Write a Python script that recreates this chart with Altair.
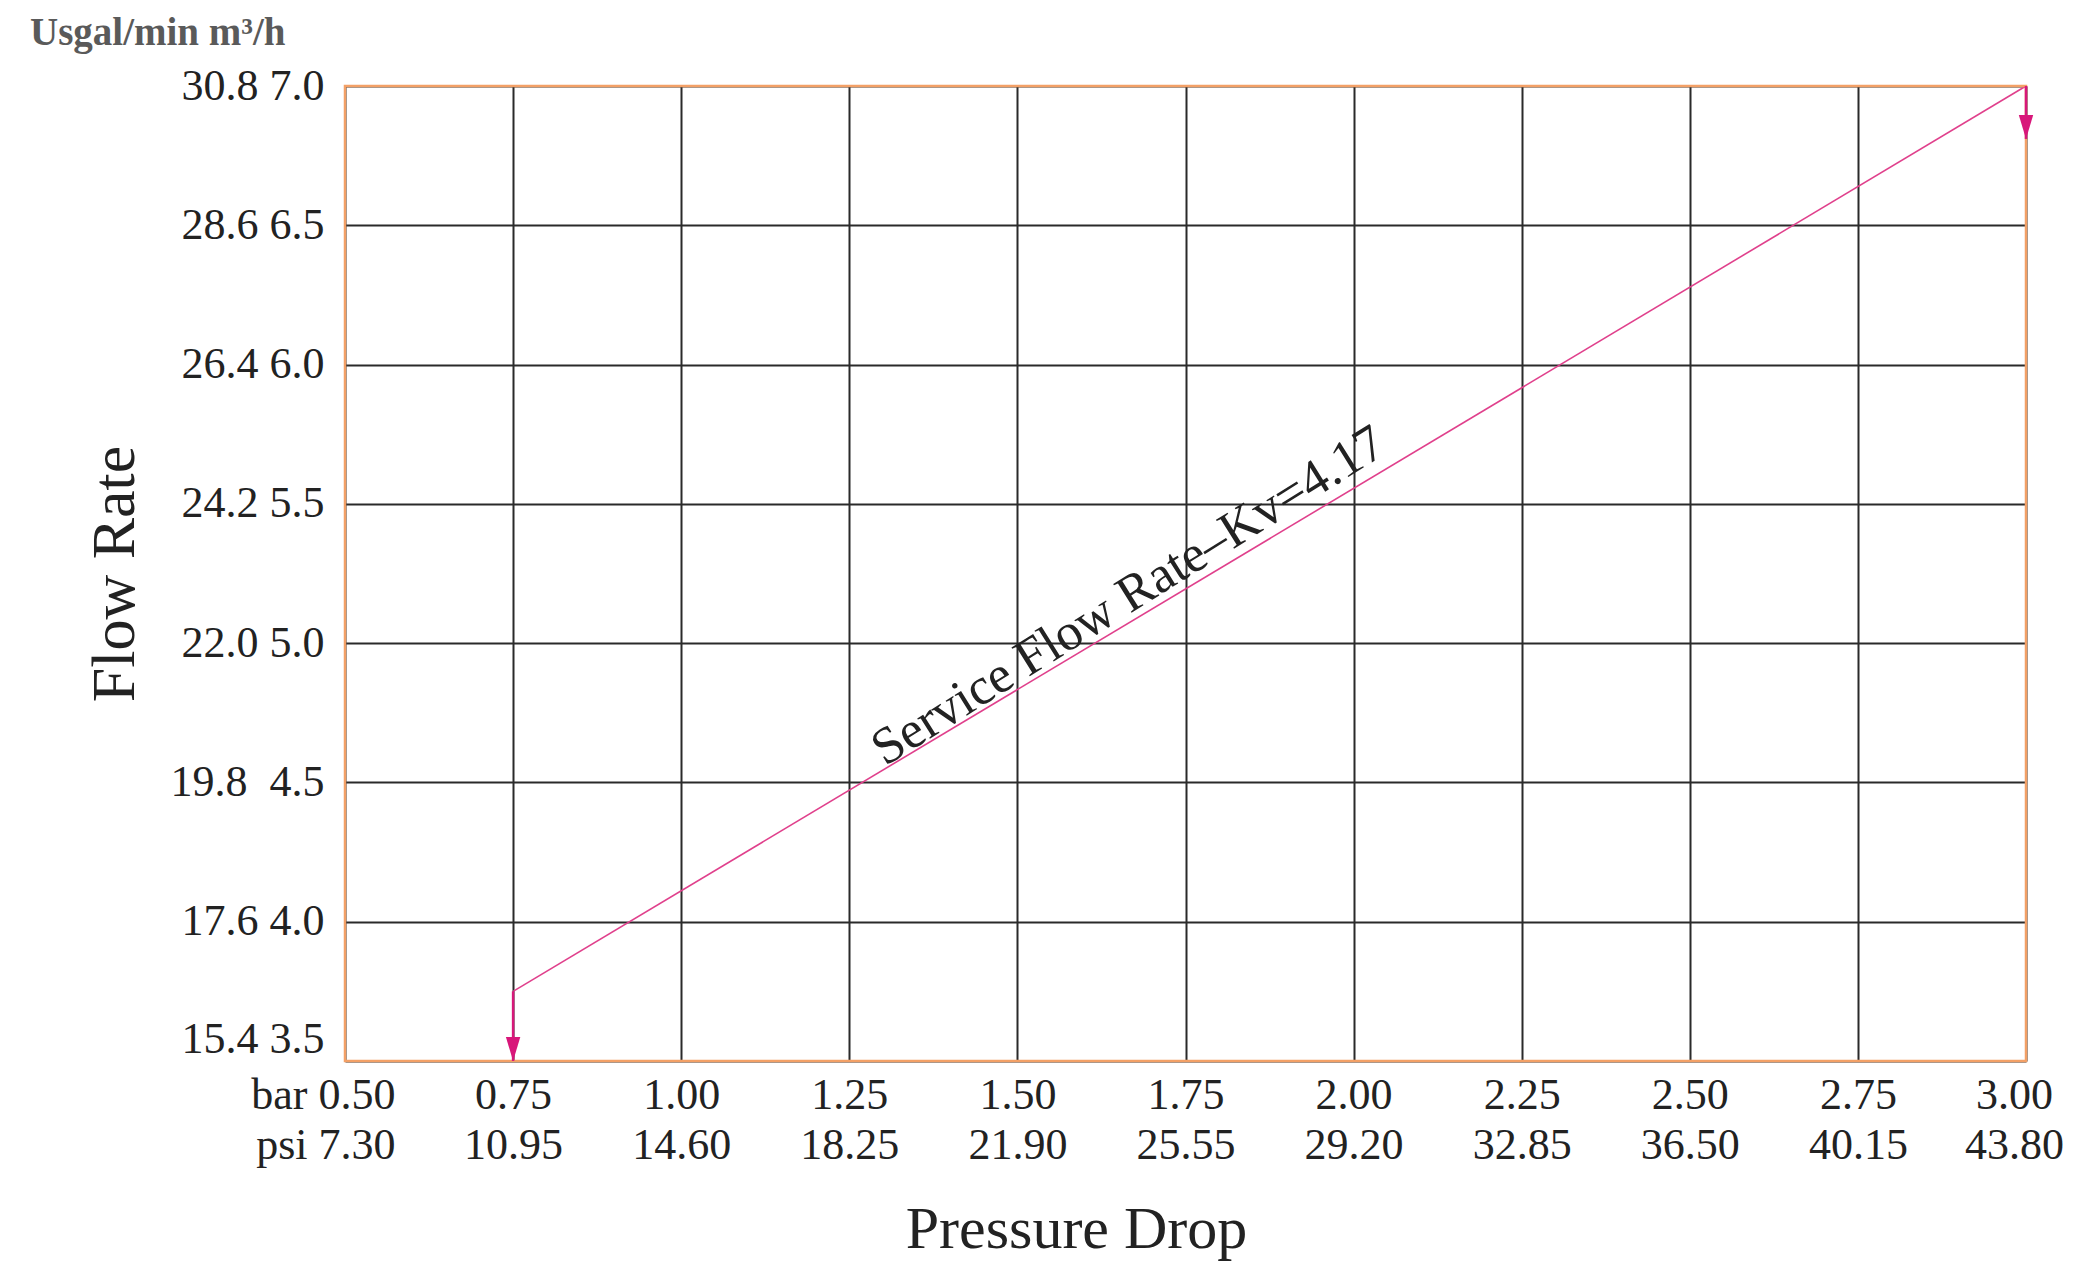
import json
import altair as alt
import pandas as pd

# ---- data ----
bar_ticks = [0.50, 0.75, 1.00, 1.25, 1.50, 1.75, 2.00, 2.25, 2.50, 2.75, 3.00]
bar_labels = ["0.50", "0.75", "1.00", "1.25", "1.50", "1.75", "2.00", "2.25", "2.50", "2.75", "3.00"]
psi_labels = ["7.30", "10.95", "14.60", "18.25", "21.90", "25.55", "29.20", "32.85", "36.50", "40.15", "43.80"]
flow_ticks = [3.5, 4.0, 4.5, 5.0, 5.5, 6.0, 6.5, 7.0]
flow_labels = ["15.4 3.5", "17.6 4.0", "19.8\u00a0\u00a04.5", "22.0 5.0",
               "24.2 5.5", "26.4 6.0", "28.6 6.5", "30.8 7.0"]

# service flow line (bar, m3/h)
line_bar = [0.75, 3.00]
line_flow = [3.75, 7.00]
# arrows (shaft from start to tip)
arrow_bar = [0.75, 3.00]
arrow_start = [3.75, 7.00]
arrow_tip = [3.50, 6.81]
# annotation
ann_text = ["Service Flow Rate\u2013Kv=4.17"]
ann_bar = [1.665]
ann_flow = [5.17]

unit_text = "Usgal/min m\u00b3/h"

W, H = 1681, 975
FONT = "Liberation Serif"
TXT = "#222222"
LINE_COL = "#E0408C"
ARROW_COL = "#D8177A"

xs = alt.Scale(domain=[bar_ticks[0], bar_ticks[-1]], nice=False, zero=False)
ys = alt.Scale(domain=[flow_ticks[0], flow_ticks[-1]], nice=False, zero=False)

x_idx = f"indexof({json.dumps(bar_ticks)}, datum.value)"
x_label_expr = (
    f"[({x_idx} == 0 ? 'bar ' : '') + {json.dumps(bar_labels)}[{x_idx}], "
    f"({x_idx} == 0 ? 'psi ' : '') + {json.dumps(psi_labels)}[{x_idx}]]"
)
y_label_expr = f"{json.dumps(flow_labels)}[indexof({json.dumps(flow_ticks)}, datum.value)]"

x_axis = alt.Axis(
    values=bar_ticks, labelExpr=x_label_expr, grid=True, ticks=False, domain=False,
    gridColor="#2a2a2a", gridWidth=2, labelFont=FONT, labelFontSize=44, labelColor=TXT,
    labelLineHeight=50, labelPadding=12, labelBaseline="top", labelOverlap=False,
    labelBound=False,
    labelAlign={"condition": {"test": "datum.value == 0.5", "value": "right"}, "value": "center"},
    labelOffset={"condition": [
        {"test": "datum.value == 0.5", "value": 50},
        {"test": "datum.value == 3", "value": -12},
    ], "value": 0},
    title="Pressure Drop", titleFont=FONT, titleFontSize=60, titleFontWeight="normal",
    titleColor=TXT, titleX=731, titleY=186, titleBaseline="alphabetic", titleAlign="center",
)
y_axis = alt.Axis(
    values=flow_ticks, labelExpr=y_label_expr, grid=True, ticks=False, domain=False,
    gridColor="#2a2a2a", gridWidth=2, labelFont=FONT, labelFontSize=44, labelColor=TXT,
    labelPadding=21, labelOverlap=False, labelBound=False,
    labelBaseline={"condition": {"test": "datum.value == 3.5", "value": "bottom"}, "value": "middle"},
    title="Flow Rate", titleFont=FONT, titleFontSize=62, titleFontWeight="normal",
    titleColor=TXT, titleX=-212, titleY=H / 2, titleAngle=270, titleBaseline="alphabetic",
    titleAlign="center",
)

line_df = pd.DataFrame({"bar": line_bar, "flow": line_flow})
arrow_df = pd.DataFrame({"bar": arrow_bar, "start": arrow_start, "tip": arrow_tip})
ann_df = pd.DataFrame({"bar": ann_bar, "flow": ann_flow, "text": ann_text})
dummy = alt.Data(values=[{}])

# base layer carrying the axes/grid
base = alt.Chart(line_df).mark_line(color=LINE_COL, strokeWidth=1.6).encode(
    x=alt.X("bar:Q", scale=xs, axis=x_axis),
    y=alt.Y("flow:Q", scale=ys, axis=y_axis),
)

border = alt.Chart(dummy).mark_rect(fill=None, stroke="#F3A066", strokeWidth=2.5).encode(
    x=alt.value(0), x2=alt.value(W), y=alt.value(0), y2=alt.value(H)
)

shafts = alt.Chart(arrow_df).mark_rule(color=ARROW_COL, strokeWidth=2.5).encode(
    x=alt.X("bar:Q", scale=xs), y=alt.Y("start:Q", scale=ys), y2="tip:Q"
)

heads = alt.Chart(arrow_df).mark_point(
    shape="M -0.6 -1 L 0.6 -1 L 0 1 Z", size=576, filled=True, opacity=1,
    color=ARROW_COL, yOffset=-12,
).encode(x=alt.X("bar:Q", scale=xs), y=alt.Y("tip:Q", scale=ys))

ann = alt.Chart(ann_df).mark_text(
    font=FONT, fontSize=52, color=TXT, angle=328, align="center", baseline="middle"
).encode(x=alt.X("bar:Q", scale=xs), y=alt.Y("flow:Q", scale=ys), text="text:N")

unit = alt.Chart(dummy).mark_text(
    text=unit_text, font=FONT, fontSize=39, fontWeight="bold", color="#5a5a5a",
    align="left", baseline="alphabetic",
).encode(x=alt.value(-315), y=alt.value(-41))

chart = alt.layer(base, border, shafts, heads, ann, unit).properties(
    width=W, height=H,
    autosize=alt.AutoSizeParams(type="none"),
    padding={"left": 337, "top": 78, "right": 40, "bottom": 200},
    background="white",
).configure_view(stroke=None)

chart.save("out.html", embed_options={"renderer": "svg", "actions": False})
